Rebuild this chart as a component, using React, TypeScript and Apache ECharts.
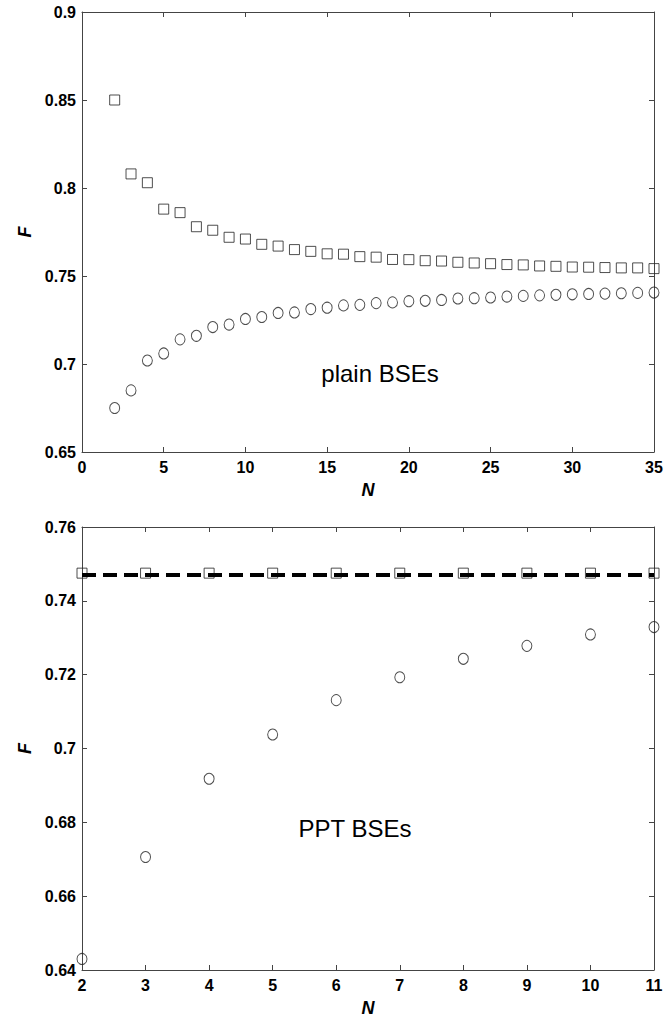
import React, { useEffect, useRef } from "react";
import * as echarts from "echarts";

// ---- Top panel: plain BSEs ----
const plainN = [2, 3, 4, 5, 6, 7, 8, 9, 10, 11, 12, 13, 14, 15, 16, 17, 18, 19, 20, 21, 22, 23, 24, 25, 26, 27, 28, 29, 30, 31, 32, 33, 34, 35];
const plainSquares = [0.85, 0.808, 0.803, 0.788, 0.786, 0.778, 0.776, 0.772, 0.771, 0.768, 0.767, 0.765, 0.764, 0.7626, 0.7624, 0.761, 0.7607, 0.7594, 0.7593, 0.7587, 0.7585, 0.7578, 0.7574, 0.757, 0.7565, 0.7563, 0.7557, 0.7555, 0.7551, 0.755, 0.7548, 0.7546, 0.7546, 0.7542];
const plainCircles = [0.675, 0.685, 0.702, 0.706, 0.714, 0.716, 0.721, 0.7224, 0.7256, 0.7267, 0.729, 0.7293, 0.7312, 0.732, 0.7333, 0.7336, 0.7346, 0.735, 0.7357, 0.7359, 0.7364, 0.7372, 0.7374, 0.7378, 0.7383, 0.7387, 0.739, 0.7393, 0.7396, 0.7398, 0.74, 0.7402, 0.7404, 0.7406];
const plainXTicks = { min: 0, max: 35, interval: 5 };
const plainYTicks = { min: 0.65, max: 0.9, interval: 0.05 };

// ---- Bottom panel: PPT BSEs ----
const pptN = [2, 3, 4, 5, 6, 7, 8, 9, 10, 11];
const pptSquares = [0.7475, 0.7475, 0.7475, 0.7475, 0.7475, 0.7475, 0.7475, 0.7475, 0.7475, 0.7475];
const pptCircles = [0.643, 0.6706, 0.6918, 0.7038, 0.7131, 0.7193, 0.7243, 0.7278, 0.7309, 0.7329];
const pptBoundN = [2, 11];
const pptBound = [0.747, 0.747];
const pptXTicks = { min: 2, max: 11, interval: 1 };
const pptYTicks = { min: 0.64, max: 0.76, interval: 0.02 };

const FONT = "'Liberation Sans', Arial, Helvetica, sans-serif";
const AXIS_COLOR = "#444";
const MARK_COLOR = "#222";

export default function App() {
  const ref = useRef<HTMLDivElement>(null);

  useEffect(() => {
    const chart = echarts.init(ref.current!, null, { renderer: "svg" });

    const tickLabel = {
      color: "#000",
      fontFamily: FONT,
      fontWeight: "bold" as const,
      fontSize: 16,
      showMinLabel: true,
      showMaxLabel: true,
    };
    const axisName = {
      color: "#000",
      fontFamily: FONT,
      fontWeight: "bold" as const,
      fontStyle: "italic" as const,
      fontSize: 18,
    };
    const fmt = (v: number) => String(Number(v.toFixed(2)));

    const mkX = (gridIndex: number, t: any, main: boolean) => ({
      type: "value",
      gridIndex,
      min: t.min,
      max: t.max,
      interval: t.interval,
      position: main ? "bottom" : "top",
      axisLine: { show: true, onZero: false, lineStyle: { color: AXIS_COLOR, width: 1 } },
      axisTick: { show: true, inside: true, length: 5, lineStyle: { color: AXIS_COLOR } },
      axisLabel: main ? { ...tickLabel, margin: 7, formatter: fmt } : { show: false },
      splitLine: { show: false },
      name: main ? "N" : "",
      nameLocation: "middle",
      nameGap: 29,
      nameTextStyle: axisName,
    });
    const mkY = (gridIndex: number, t: any, main: boolean) => ({
      type: "value",
      gridIndex,
      min: t.min,
      max: t.max,
      interval: t.interval,
      position: main ? "left" : "right",
      axisLine: { show: true, onZero: false, lineStyle: { color: AXIS_COLOR, width: 1 } },
      axisTick: { show: true, inside: true, length: 5, lineStyle: { color: AXIS_COLOR } },
      axisLabel: main ? { ...tickLabel, margin: 6, formatter: fmt } : { show: false },
      splitLine: { show: false },
      name: main ? "F" : "",
      nameLocation: "middle",
      nameGap: 46,
      nameTextStyle: axisName,
    });

    const hollow = { color: "rgba(0,0,0,0)", borderColor: MARK_COLOR, borderWidth: 1 };

    chart.setOption({
      animation: false,
      backgroundColor: "#fff",
      grid: [
        { left: 82, top: 12, width: 572, height: 440 },
        { left: 82, top: 527, width: 572, height: 443 },
      ],
      xAxis: [
        mkX(0, plainXTicks, true),
        mkX(0, plainXTicks, false),
        mkX(1, pptXTicks, true),
        mkX(1, pptXTicks, false),
      ],
      yAxis: [
        mkY(0, plainYTicks, true),
        mkY(0, plainYTicks, false),
        mkY(1, pptYTicks, true),
        mkY(1, pptYTicks, false),
      ],
      series: [
        {
          type: "scatter",
          xAxisIndex: 0,
          yAxisIndex: 0,
          symbol: "rect",
          symbolSize: 10,
          clip: false,
          itemStyle: hollow,
          data: plainN.map((n, i) => [n, plainSquares[i]]),
        },
        {
          type: "scatter",
          xAxisIndex: 0,
          yAxisIndex: 0,
          symbol: "circle",
          symbolSize: [10, 11],
          clip: false,
          itemStyle: hollow,
          data: plainN.map((n, i) => [n, plainCircles[i]]),
        },
        {
          type: "scatter",
          xAxisIndex: 2,
          yAxisIndex: 2,
          symbol: "rect",
          symbolSize: 10,
          clip: false,
          z: 2,
          itemStyle: hollow,
          data: pptN.map((n, i) => [n, pptSquares[i]]),
        },
        {
          type: "line",
          xAxisIndex: 2,
          yAxisIndex: 2,
          showSymbol: false,
          symbol: "none",
          z: 5,
          lineStyle: { color: "#000", width: 4, type: [14, 7] },
          data: pptBoundN.map((n, i) => [n, pptBound[i]]),
        },
        {
          type: "scatter",
          xAxisIndex: 2,
          yAxisIndex: 2,
          symbol: "circle",
          symbolSize: [10, 11],
          clip: false,
          itemStyle: hollow,
          data: pptN.map((n, i) => [n, pptCircles[i]]),
        },
      ],
      graphic: [
        {
          type: "text",
          x: 380,
          y: 373,
          style: {
            text: "plain BSEs",
            fill: "#000",
            font: `normal 24px ${FONT}`,
            align: "center",
            verticalAlign: "middle",
            textAlign: "center",
            textVerticalAlign: "middle",
          },
        },
        {
          type: "text",
          x: 355,
          y: 828,
          style: {
            text: "PPT BSEs",
            fill: "#000",
            font: `normal 24px ${FONT}`,
            align: "center",
            verticalAlign: "middle",
            textAlign: "center",
            textVerticalAlign: "middle",
          },
        },
      ],
    });

    return () => chart.dispose();
  }, []);

  return (
    <div
      ref={ref}
      style={{ position: "absolute", left: 0, top: 0, width: 669, height: 1019, background: "#fff" }}
    />
  );
}
